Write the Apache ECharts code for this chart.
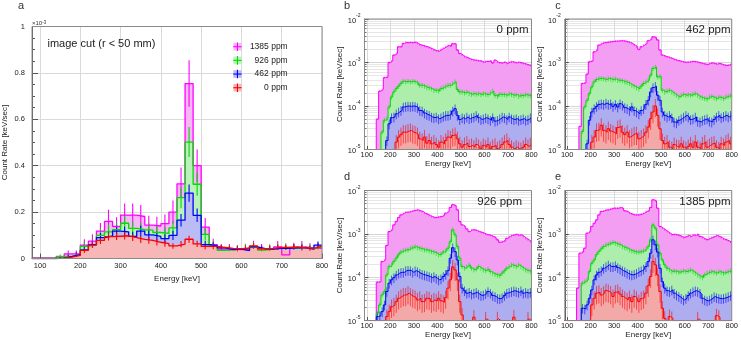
<!DOCTYPE html>
<html><head><meta charset="utf-8">
<script src="https://cdn.jsdelivr.net/npm/echarts@6/dist/echarts.min.js"></script>
<style>html,body{margin:0;padding:0;background:#fff}#c{width:741px;height:340px}</style>
</head><body><div id="c"></div>
<script>
// ---------------- DATA ----------------
const seriesNames = ['1385 ppm', '926 ppm', '462 ppm', '0 ppm'];
const panelTitles = ['0 ppm', '462 ppm', '926 ppm', '1385 ppm'];
const panelLetters = ['a', 'b', 'c', 'd', 'e'];
const energyTicks = [100, 200, 300, 400, 500, 600, 700, 800];

// Panel a: 20 keV bins, lower edges (keV); rates in units of 1e-3 keV/sec
const binWidthA = 20;
const binStartA = [80,100,120,140,160,180,200,220,240,260,280,300,320,340,360,380,400,420,440,460,480,500,520,540,560,580,600,620,640,660,680,700,720,740,760,780];
const rateA_1385 = [0,0,0,0.003,0.020,0.020,0.058,0.075,0.118,0.160,
  0.138,0.187,0.187,0.181,0.144,0.140,0.150,0.200,0.322,0.754,
  0.400,0.135,0.060,0.040,0.042,0.038,0.040,0.052,0.042,0.040,
  0.050,0.016,0.048,0.050,0.046,0.044];
const rateA_926 = [0,0,0,0.009,0.010,0.017,0.052,0.060,0.100,0.115,
  0.124,0.152,0.130,0.124,0.122,0.112,0.108,0.132,0.262,0.502,
  0.320,0.104,0.055,0.035,0.037,0.040,0.046,0.050,0.036,0.042,
  0.046,0.048,0.044,0.048,0.042,0.050];
const rateA_462 = [0,0,0,0.002,0.009,0.017,0.037,0.060,0.090,0.098,
  0.118,0.115,0.095,0.118,0.102,0.095,0.086,0.100,0.165,0.282,
  0.186,0.060,0.055,0.046,0.038,0.040,0.034,0.050,0.042,0.040,
  0.044,0.044,0.046,0.046,0.040,0.058];
const rateA_0 = [0,0,0,0.002,0.006,0.013,0.035,0.058,0.078,0.094,
  0.096,0.098,0.090,0.082,0.078,0.070,0.064,0.054,0.062,0.083,
  0.063,0.052,0.052,0.048,0.044,0.042,0.045,0.054,0.042,0.044,
  0.048,0.048,0.050,0.046,0.044,0.052];
const errA_1385 = [0,0,0,0.005,0.015,0.015,0.025,0.03,0.035,0.05,
  0.04,0.05,0.05,0.05,0.04,0.04,0.04,0.05,0.07,0.10,
  0.07,0.04,0.025,0.02,0.02,0.02,0.02,0.025,0.02,0.02,
  0.025,0.015,0.02,0.025,0.02,0.02];
const errA_926 = [0,0,0,0.008,0.008,0.012,0.02,0.022,0.028,0.03,
  0.03,0.033,0.03,0.03,0.03,0.028,0.028,0.03,0.045,0.065,
  0.05,0.028,0.02,0.016,0.016,0.017,0.018,0.019,0.016,0.017,
  0.018,0.018,0.017,0.018,0.017,0.018];
const errA_462 = [0,0,0,0.003,0.007,0.01,0.014,0.017,0.02,0.021,
  0.023,0.022,0.02,0.023,0.021,0.02,0.019,0.02,0.027,0.037,
  0.029,0.015,0.014,0.013,0.012,0.012,0.012,0.014,0.013,0.012,
  0.013,0.013,0.013,0.013,0.012,0.015];
const errA_0 = [0,0,0,0.003,0.005,0.007,0.011,0.013,0.015,0.016,
  0.016,0.016,0.015,0.015,0.014,0.014,0.013,0.012,0.013,0.015,
  0.013,0.012,0.012,0.011,0.011,0.011,0.011,0.012,0.011,0.011,
  0.011,0.011,0.012,0.011,0.011,0.012];

// Panels b-e: 10 keV bins, lower edges (keV); rates in keV/sec
const binWidthS = 10;
const binStartS = [90,100,110,120,130,140,150,160,170,180,190,200,210,220,230,240,250,260,270,280,290,300,310,320,330,340,350,360,370,380,390,400,410,420,430,440,450,460,470,480,490,500,510,520,530,540,550,560,570,580,590,600,610,620,630,640,650,660,670,680,690,700,710,720,730,740,750,760,770,780,790];
// relative error bar size per curve (upper, second, third, lowest)
const relErrS = [0.05, 0.13, 0.25, 0.45];

// panel b (0 ppm)
const rateB_1 = [0,0,0,0,0,5e-5,2.2e-4,2.4e-4,4.5e-4,4.6e-4,
  1.0e-3,1.08e-3,1.48e-3,1.61e-3,2.3e-3,2.3e-3,2.74e-3,2.9e-3,2.85e-3,2.9e-3,
  2.85e-3,2.94e-3,2.74e-3,2.55e-3,2.47e-3,2.38e-3,2.3e-3,2.18e-3,2.07e-3,1.93e-3,
  1.86e-3,1.83e-3,2.0e-3,2.14e-3,2.3e-3,2.47e-3,2.38e-3,2.7e-3,2.7e-3,1.93e-3,
  1.61e-3,1.48e-3,1.35e-3,1.30e-3,1.22e-3,1.17e-3,1.13e-3,1.13e-3,1.09e-3,1.08e-3,
  1.02e-3,1.06e-3,1.06e-3,1.09e-3,9.8e-4,1.13e-3,1.02e-3,9.8e-4,9.8e-4,1.02e-3,
  9.5e-4,1.02e-3,1.04e-3,1.02e-3,9.8e-4,1.02e-3,9.8e-4,9.5e-4,9.2e-4,8.8e-4,
  8.5e-4];
const rateB_2 = [0,0,0,0,0,0,0,2.5e-5,4.7e-5,5.1e-5,
  9.5e-5,1.61e-4,2.1e-4,2.5e-4,2.85e-4,3.3e-4,3.7e-4,3.6e-4,3.7e-4,3.58e-4,
  3.7e-4,3.6e-4,3.4e-4,3.0e-4,3.0e-4,2.85e-4,2.65e-4,2.6e-4,2.5e-4,2.3e-4,
  2.3e-4,2.2e-4,2.5e-4,2.65e-4,2.85e-4,3.0e-4,3.0e-4,3.3e-4,3.6e-4,2.4e-4,
  2.1e-4,2.1e-4,2.0e-4,2.1e-4,1.93e-4,1.86e-4,1.93e-4,1.86e-4,1.93e-4,1.83e-4,
  1.93e-4,1.86e-4,1.83e-4,2.0e-4,2.2e-4,1.76e-4,1.67e-4,1.86e-4,1.83e-4,1.83e-4,
  1.76e-4,1.93e-4,1.83e-4,1.76e-4,1.83e-4,1.67e-4,1.76e-4,1.73e-4,1.83e-4,1.76e-4,
  1.73e-4];
const rateB_3 = [0,0,0,0,0,0,0,0,0,1.6e-5,
  3.9e-5,5.4e-5,5.6e-5,6.6e-5,7.3e-5,7.9e-5,9.5e-5,9.8e-5,1.0e-4,9.8e-5,
  1.0e-4,9.8e-5,9.2e-5,7.9e-5,7.7e-5,6.9e-5,6.4e-5,6.1e-5,5.6e-5,5.4e-5,
  5.6e-5,5.1e-5,5.4e-5,5.8e-5,6.1e-5,6.1e-5,6.4e-5,7.7e-5,8.7e-5,6.1e-5,
  4.9e-5,5.4e-5,5.1e-5,5.6e-5,5.1e-5,5.4e-5,5.6e-5,6.1e-5,5.4e-5,4.9e-5,
  5.1e-5,5.4e-5,5.1e-5,4.7e-5,5.4e-5,4.5e-5,4.7e-5,5.1e-5,5.6e-5,5.4e-5,
  4.9e-5,5.6e-5,5.1e-5,4.9e-5,5.1e-5,4.7e-5,4.9e-5,5.1e-5,4.7e-5,4.9e-5,
  5.4e-5];
const rateB_4 = [0,0,0,0,0,0,0,0,0,0,
  0,0,0,1.48e-5,1.93e-5,2.2e-5,2.5e-5,2.5e-5,2.65e-5,2.74e-5,
  2.5e-5,2.4e-5,2.2e-5,1.76e-5,1.61e-5,1.93e-5,1.4e-5,1.61e-5,1.35e-5,1.48e-5,
  1.3e-5,1.13e-5,1.48e-5,1.35e-5,1.61e-5,1.93e-5,1.85e-5,2.1e-5,2.2e-5,1.76e-5,
  1.35e-5,1.13e-5,1.3e-5,1.4e-5,1.17e-5,1.24e-5,1.13e-5,1.3e-5,1.17e-5,1.04e-5,
  1.24e-5,1.13e-5,1.3e-5,1.04e-5,1.17e-5,1.24e-5,1.04e-5,1.13e-5,1.3e-5,1.48e-5,
  1.61e-5,1.3e-5,1.13e-5,1.02e-5,1.13e-5,1.04e-5,1.0e-5,1.13e-5,1.3e-5,1.17e-5,
  1.3e-5];

// panel c (462 ppm)
const rateC_1 = [0,0,0,0,0,0,3.4e-5,3.3e-4,3.4e-4,5.4e-4,
  1.04e-3,1.08e-3,1.76e-3,1.93e-3,2.51e-3,2.74e-3,2.85e-3,2.9e-3,2.94e-3,3.0e-3,
  3.05e-3,3.1e-3,3.1e-3,3.16e-3,3.16e-3,3.1e-3,3.0e-3,2.9e-3,2.74e-3,2.51e-3,
  2.3e-3,2.0e-3,2.3e-3,2.51e-3,2.74e-3,3.16e-3,3.4e-3,3.9e-3,3.75e-3,3.3e-3,
  1.93e-3,1.48e-3,1.4e-3,1.35e-3,1.3e-3,1.24e-3,1.17e-3,1.13e-3,1.09e-3,1.06e-3,
  1.02e-3,1.02e-3,1.02e-3,1.04e-3,1.06e-3,1.04e-3,1.02e-3,9.8e-4,9.5e-4,9.2e-4,
  9.0e-4,9.5e-4,9.8e-4,9.5e-4,9.2e-4,9.5e-4,9.2e-4,8.8e-4,8.5e-4,8.7e-4,
  9.0e-4];
const rateC_2 = [0,0,0,0,0,0,0,2.6e-5,9.5e-5,1.35e-4,
  1.93e-4,2.74e-4,3.58e-4,4.06e-4,4.27e-4,4.3e-4,4.2e-4,4.06e-4,4.27e-4,4.2e-4,
  4.06e-4,4.2e-4,3.9e-4,3.9e-4,3.8e-4,3.6e-4,3.5e-4,3.3e-4,3.0e-4,2.85e-4,
  2.65e-4,2.5e-4,2.85e-4,3.3e-4,3.6e-4,3.9e-4,5.1e-4,7.3e-4,7.9e-4,4.66e-4,
  4.8e-4,2.3e-4,2.1e-4,2.2e-4,2.3e-4,2.1e-4,1.93e-4,1.76e-4,1.61e-4,1.76e-4,
  1.86e-4,1.76e-4,1.83e-4,1.76e-4,1.86e-4,1.93e-4,1.76e-4,1.61e-4,1.55e-4,1.48e-4,
  1.45e-4,1.61e-4,1.67e-4,1.55e-4,1.48e-4,1.61e-4,1.55e-4,1.48e-4,1.61e-4,1.67e-4,
  1.73e-4];
const rateC_3 = [0,0,0,0,0,0,0,0,0,1.35e-5,
  4.7e-5,7.3e-5,8.7e-5,9.8e-5,1.09e-4,1.13e-4,1.09e-4,1.17e-4,1.09e-4,1.13e-4,
  9.8e-5,1.09e-4,9.5e-5,1.13e-4,1.04e-4,9.2e-5,8.7e-5,7.9e-5,9.5e-5,7.9e-5,
  7.3e-5,6.6e-5,7.9e-5,8.7e-5,1.09e-4,1.35e-4,2.1e-4,2.65e-4,2.85e-4,1.76e-4,
  1.35e-4,7.3e-5,6.1e-5,5.6e-5,6.1e-5,5.4e-5,4.3e-5,4.1e-5,4.7e-5,5.1e-5,
  5.6e-5,6.1e-5,5.6e-5,4.9e-5,5.1e-5,5.6e-5,4.5e-5,4.3e-5,4.7e-5,4.9e-5,
  5.1e-5,4.5e-5,4.3e-5,4.9e-5,5.6e-5,6.1e-5,5.4e-5,5.8e-5,6.1e-5,5.6e-5,
  6.1e-5];
const rateC_4 = [0,0,0,0,0,0,0,0,0,0,
  0,1.48e-5,1.93e-5,2.74e-5,2.85e-5,3.6e-5,2.74e-5,2.5e-5,3.0e-5,2.65e-5,
  2.5e-5,2.3e-5,3.2e-5,3.4e-5,2.5e-5,2.2e-5,2.5e-5,1.93e-5,2.1e-5,2.3e-5,
  2.3e-5,1.76e-5,1.93e-5,2.1e-5,2.5e-5,3.27e-5,5.1e-5,7.3e-5,1.0e-4,6.1e-5,
  3.0e-5,1.61e-5,1.35e-5,1.48e-5,1.13e-5,1.04e-5,1.3e-5,1.17e-5,1.13e-5,1.35e-5,
  1.13e-5,1.04e-5,1.17e-5,1.35e-5,1.13e-5,1.48e-5,1.13e-5,1.04e-5,1.35e-5,1.48e-5,
  1.13e-5,1.24e-5,1.35e-5,1.4e-5,1.13e-5,1.04e-5,1.35e-5,1.24e-5,1.48e-5,1.61e-5,
  1.35e-5];

// panel d (926 ppm)
const rateD_1 = [0,0,0,0,0,7.7e-5,7.9e-5,2.3e-4,2.5e-4,5.4e-4,
  1.13e-3,1.24e-3,1.61e-3,1.93e-3,2.38e-3,2.74e-3,3.0e-3,3.16e-3,3.16e-3,3.27e-3,
  3.4e-3,3.5e-3,3.58e-3,3.4e-3,3.27e-3,3.0e-3,2.85e-3,2.65e-3,2.51e-3,2.38e-3,
  2.38e-3,2.47e-3,2.51e-3,2.65e-3,3.0e-3,3.27e-3,4.05e-3,4.7e-3,4.5e-3,3.58e-3,
  1.93e-3,1.61e-3,1.48e-3,1.3e-3,1.13e-3,1.24e-3,1.24e-3,1.2e-3,1.13e-3,1.09e-3,
  1.04e-3,9.8e-4,9.5e-4,9.2e-4,8.7e-4,8.2e-4,7.3e-4,6.4e-4,6.6e-4,6.9e-4,
  7.9e-4,8.7e-4,9.2e-4,9.5e-4,9.8e-4,9.2e-4,9.5e-4,8.7e-4,7.9e-4,7.3e-4,
  6.6e-4];
const rateD_2 = [0,0,0,0,0,1.48e-5,2.3e-5,3.9e-5,4.7e-5,1.13e-4,
  1.76e-4,1.93e-4,2.3e-4,2.74e-4,3.3e-4,3.8e-4,4.06e-4,4.27e-4,4.27e-4,4.66e-4,
  4.8e-4,5.1e-4,4.8e-4,4.66e-4,4.5e-4,4.27e-4,4.27e-4,4.06e-4,3.9e-4,3.8e-4,
  3.58e-4,3.3e-4,3.4e-4,3.8e-4,4.06e-4,4.66e-4,6.6e-4,1.24e-3,9.5e-4,5.1e-4,
  2.74e-4,1.76e-4,1.61e-4,1.76e-4,1.93e-4,1.61e-4,1.48e-4,1.55e-4,1.76e-4,1.61e-4,
  1.48e-4,1.42e-4,1.55e-4,1.35e-4,1.24e-4,1.17e-4,1.13e-4,1.09e-4,1.24e-4,1.4e-4,
  1.61e-4,1.76e-4,1.93e-4,1.86e-4,1.76e-4,1.93e-4,1.76e-4,1.61e-4,1.48e-4,1.42e-4,
  1.35e-4];
const rateD_3 = [0,0,0,0,0,1.24e-5,1.3e-5,1.61e-5,2.3e-5,4.7e-5,
  7.3e-5,8.7e-5,9.8e-5,1.13e-4,1.24e-4,1.3e-4,1.3e-4,1.42e-4,1.45e-4,1.42e-4,
  1.3e-4,1.42e-4,1.35e-4,1.24e-4,1.17e-4,1.13e-4,1.09e-4,1.04e-4,9.8e-5,1.04e-4,
  9.5e-5,8.7e-5,9.2e-5,1.04e-4,1.17e-4,1.42e-4,2.74e-4,4.8e-4,3.9e-4,2.5e-4,
  1.04e-4,5.6e-5,4.9e-5,4.3e-5,4.5e-5,4.1e-5,4.3e-5,4.5e-5,4.1e-5,3.8e-5,
  3.9e-5,4.2e-5,4.7e-5,4.3e-5,3.8e-5,3.6e-5,3.27e-5,3.2e-5,3.4e-5,3.8e-5,
  4.3e-5,4.5e-5,4.7e-5,4.9e-5,4.7e-5,4.5e-5,4.9e-5,4.3e-5,4.5e-5,4.3e-5,
  4.5e-5];
const rateD_4 = [0,0,0,0,0,0,0,0,0,1.24e-5,
  1.61e-5,2.1e-5,2.3e-5,2.74e-5,3.27e-5,3.6e-5,3.9e-5,3.9e-5,4.3e-5,3.9e-5,
  3.6e-5,3.4e-5,3.0e-5,3.27e-5,2.74e-5,2.85e-5,3.27e-5,3.2e-5,2.74e-5,3.0e-5,
  2.85e-5,3.27e-5,2.85e-5,2.65e-5,3.4e-5,5.6e-5,8.7e-5,1.73e-4,1.48e-4,8.7e-5,
  2.74e-5,1.35e-5,0,0,0,0,1.2e-5,0,0,0,
  0,1.1e-5,0,0,0,0,1.1e-5,0,0,0,
  0,0,0,1.2e-5,0,0,0,0,0,1.1e-5,
  0];

// panel e (1385 ppm)
const rateE_1 = [0,0,0,0,0,5.6e-5,3.58e-4,3.8e-4,4.66e-4,1.04e-3,
  1.13e-3,1.48e-3,1.76e-3,2.1e-3,2.74e-3,3.27e-3,3.4e-3,3.58e-3,3.58e-3,3.75e-3,
  3.9e-3,3.9e-3,3.9e-3,4.05e-3,3.9e-3,3.4e-3,3.27e-3,3.0e-3,2.85e-3,2.74e-3,
  2.74e-3,2.74e-3,2.85e-3,3.0e-3,3.27e-3,3.4e-3,4.05e-3,6.1e-3,5.8e-3,3.9e-3,
  1.48e-3,1.35e-3,1.24e-3,1.13e-3,1.04e-3,9.5e-4,9.8e-4,9.5e-4,9.2e-4,8.7e-4,
  8.2e-4,8.7e-4,9.2e-4,8.7e-4,9.5e-4,9.2e-4,9.8e-4,8.7e-4,8.2e-4,7.6e-4,
  7.3e-4,7.9e-4,8.2e-4,8.7e-4,9.2e-4,8.7e-4,8.2e-4,7.6e-4,7.3e-4,6.9e-4,
  6.4e-4];
const rateE_2 = [0,0,0,0,0,0,0,7.3e-5,7.9e-5,8.7e-5,
  1.35e-4,2.1e-4,2.5e-4,3.3e-4,3.9e-4,4.5e-4,5.1e-4,5.6e-4,5.8e-4,6.1e-4,
  6.4e-4,6.1e-4,5.8e-4,5.6e-4,5.1e-4,4.8e-4,4.66e-4,4.27e-4,4.06e-4,3.9e-4,
  3.8e-4,3.8e-4,3.9e-4,4.06e-4,4.4e-4,5.1e-4,7.3e-4,1.61e-3,1.35e-3,5.6e-4,
  3.58e-4,2.5e-4,1.93e-4,1.61e-4,1.48e-4,1.35e-4,1.4e-4,1.35e-4,1.3e-4,1.35e-4,
  1.4e-4,1.35e-4,1.4e-4,1.48e-4,1.35e-4,1.24e-4,1.13e-4,1.04e-4,9.8e-5,1.13e-4,
  1.24e-4,1.3e-4,1.35e-4,1.3e-4,1.24e-4,1.35e-4,1.3e-4,1.24e-4,1.3e-4,1.35e-4,
  1.4e-4];
const rateE_3 = [0,0,0,0,0,0,0,1.93e-5,1.86e-5,2.3e-5,
  3.27e-5,5.1e-5,8.7e-5,1.13e-4,1.3e-4,1.42e-4,1.61e-4,1.76e-4,1.93e-4,1.76e-4,
  1.76e-4,1.86e-4,1.67e-4,1.55e-4,1.42e-4,1.35e-4,1.24e-4,1.17e-4,1.13e-4,1.17e-4,
  1.24e-4,1.35e-4,1.42e-4,1.55e-4,1.76e-4,2.3e-4,3.58e-4,7.3e-4,5.6e-4,3.8e-4,
  1.61e-4,7.9e-5,5.6e-5,4.9e-5,4.7e-5,5.1e-5,4.3e-5,3.9e-5,3.6e-5,3.27e-5,
  3.0e-5,3.27e-5,3.8e-5,4.3e-5,4.7e-5,4.9e-5,4.7e-5,4.3e-5,3.27e-5,3.0e-5,
  2.85e-5,3.0e-5,3.27e-5,3.6e-5,3.4e-5,3.27e-5,3.2e-5,3.27e-5,3.4e-5,3.6e-5,
  3.8e-5];
const rateE_4 = [0,0,0,0,0,0,0,0,0,0,
  0,2.3e-5,3.27e-5,4.3e-5,4.5e-5,3.9e-5,4.3e-5,4.9e-5,4.7e-5,4.3e-5,
  3.6e-5,4.5e-5,4.7e-5,4.1e-5,3.6e-5,3.27e-5,3.0e-5,3.4e-5,2.74e-5,3.6e-5,
  3.27e-5,2.74e-5,3.2e-5,3.4e-5,4.3e-5,6.4e-5,1.04e-4,2.3e-4,1.93e-4,1.13e-4,
  4.7e-5,1.93e-5,1.13e-5,0,1.24e-5,1.13e-5,0,0,0,0,
  0,0,0,0,0,0,1.1e-5,0,0,0,
  0,0,0,0,1.3e-5,1.2e-5,0,0,0,0,
  0];

// ---------------- STYLE ----------------
const FONT = "'Liberation Sans', Arial, Helvetica, sans-serif";
const lineColors = ['#ff00ff', '#00dd00', '#0000ff', '#ff0000'];
const fillA = ['#f6b7f6', '#baf3ba', '#bbbbf5', '#f7b7b7'];
const fillS = ['#f39ef3', '#adeead', '#adadf0', '#f4a9a9'];
const TXT = '#222';

const gridPos = [
  {left: 32, top: 26.5, width: 290, height: 232},
  {left: 364.5, top: 19, width: 167, height: 130.5},
  {left: 564.8, top: 19, width: 167.5, height: 130.5},
  {left: 364.5, top: 190.5, width: 167, height: 130.5},
  {left: 564.8, top: 190.5, width: 167.5, height: 130.5}
];
const grids = gridPos.map(g => Object.assign({show: true, borderColor: '#8a8a8a', borderWidth: 1, backgroundColor: 'transparent', z: 3}, g));

function xAxisCfg(i, min, big) {
  return {
    gridIndex: i, type: 'value', min: min, max: 800, z: 1,
    axisLine: {show: true, onZero: false, lineStyle: {color: '#555', width: 1}},
    axisTick: {show: true, inside: true, length: big ? 5 : 3.5, customValues: energyTicks, lineStyle: {color: '#555'}},
    axisLabel: {customValues: energyTicks, fontSize: 7.5, color: TXT, fontFamily: FONT, margin: big ? 3 : 1.5},
    splitLine: {show: true, lineStyle: {color: '#dadada', width: 1}},
    name: 'Energy [keV]', nameLocation: 'middle', nameGap: big ? 12 : 9.5,
    nameTextStyle: {fontSize: 8, color: TXT, fontFamily: FONT}
  };
}
const yA = {
  gridIndex: 0, type: 'value', min: 0, max: 1, interval: 0.2, z: 1,
  axisLine: {show: true, lineStyle: {color: '#555'}},
  axisTick: {show: true, inside: true, length: 6, lineStyle: {color: '#555'}},
  minorTick: {show: true, splitNumber: 4, length: 3, lineStyle: {color: '#555'}},
  axisLabel: {fontSize: 7.5, color: TXT, fontFamily: FONT, margin: 7},
  splitLine: {show: true, lineStyle: {color: '#dadada'}},
  name: 'Count Rate [keV/sec]', nameLocation: 'middle', nameGap: 23, nameRotate: 90,
  nameTextStyle: {fontSize: 8, color: TXT, fontFamily: FONT}
};
function yLogCfg(i) {
  return {
    gridIndex: i, type: 'log', logBase: 10, min: 1e-5, max: 1e-2, z: 1,
    axisLine: {show: true, lineStyle: {color: '#555'}},
    axisTick: {show: true, inside: true, length: 4, lineStyle: {color: '#555'}},
    minorTick: {show: true, splitNumber: 9, length: 2, lineStyle: {color: '#777'}},
    splitLine: {show: true, lineStyle: {color: '#d4d4d4'}},
    minorSplitLine: {show: true, lineStyle: {color: '#e6e6e6'}},
    axisLabel: {
      margin: 4,
      formatter: v => '{b|10}{s|' + Math.round(Math.log10(v)) + '}',
      rich: {
        b: {fontSize: 7.5, color: TXT, fontFamily: FONT, verticalAlign: 'bottom', lineHeight: 11},
        s: {fontSize: 5, color: TXT, fontFamily: FONT, verticalAlign: 'top', lineHeight: 11}
      }
    },
    name: 'Count Rate [keV/sec]', nameLocation: 'middle', nameGap: 20, nameRotate: 90,
    nameTextStyle: {fontSize: 8, color: TXT, fontFamily: FONT}
  };
}

function histSeries(gi, edges, width, vals, ci, fills, lw, floor) {
  const pts = edges.map((e, k) => [e, Math.max(vals[k], floor)]);
  pts.push([edges[edges.length - 1] + width, Math.max(vals[vals.length - 1], floor)]);
  return {
    type: 'line', xAxisIndex: gi, yAxisIndex: gi, data: pts, step: 'end',
    symbol: 'none', showSymbol: false, silent: true, clip: true, z: 2,
    lineStyle: {color: lineColors[ci], width: lw},
    itemStyle: {color: lineColors[ci]},
    areaStyle: {color: fills[ci], opacity: 1, origin: 'start'}
  };
}
function errSeries(gi, edges, width, vals, errs, ci, lw, floor) {
  const d = [];
  edges.forEach((e, k) => {
    if (vals[k] > 0) d.push([e + width / 2, Math.max(vals[k] - errs[k], floor), vals[k] + errs[k]]);
  });
  return {
    type: 'custom', xAxisIndex: gi, yAxisIndex: gi, data: d, z: 2, silent: true, clip: true,
    encode: {x: 0, y: [1, 2]},
    renderItem: (p, api) => {
      const a = api.coord([api.value(0), api.value(1)]);
      const b = api.coord([api.value(0), api.value(2)]);
      return {type: 'line', shape: {x1: a[0], y1: a[1], x2: b[0], y2: b[1]},
        style: {stroke: lineColors[ci], lineWidth: lw}};
    }
  };
}

const series = [];
const ratesA = [rateA_1385, rateA_926, rateA_462, rateA_0];
const errsA = [errA_1385, errA_926, errA_462, errA_0];
ratesA.forEach((r, ci) => {
  series.push(histSeries(0, binStartA, binWidthA, r, ci, fillA, 1.3, 0));
  series.push(errSeries(0, binStartA, binWidthA, r, errsA[ci], ci, 1.1, 0));
});
const smallPanels = [
  [rateB_1, rateB_2, rateB_3, rateB_4],
  [rateC_1, rateC_2, rateC_3, rateC_4],
  [rateD_1, rateD_2, rateD_3, rateD_4],
  [rateE_1, rateE_2, rateE_3, rateE_4]
];
smallPanels.forEach((set, pi) => {
  set.forEach((r, ci) => {
    series.push(histSeries(pi + 1, binStartS, binWidthS, r, ci, fillS, 1, 1e-5));
    series.push(errSeries(pi + 1, binStartS, binWidthS, r, r.map(v => v * relErrS[ci]), ci, 0.6, 1e-6));
  });
});

// ---------------- TEXT / LEGEND ----------------
const graphic = [];
const letterPos = [[21, 6], [347, 6], [558, 6], [347, 177], [558, 177]];
panelLetters.forEach((t, i) => graphic.push({type: 'text', x: letterPos[i][0], y: letterPos[i][1], z: 20,
  style: {text: t, fontSize: 11, fontFamily: FONT, fill: '#333', align: 'center', verticalAlign: 'middle'}}));
const titlePos = [[528.5, 30], [730.5, 30], [522, 201.5], [730.5, 201.5]];
panelTitles.forEach((t, i) => graphic.push({type: 'text', x: titlePos[i][0], y: titlePos[i][1], z: 20,
  style: {text: t, fontSize: 11.5, fontFamily: FONT, fill: TXT, align: 'right', verticalAlign: 'middle'}}));
graphic.push({type: 'text', x: 47.5, y: 44.3, z: 20,
  style: {text: 'image cut (r < 50 mm)', fontSize: 11, fontFamily: FONT, fill: TXT, align: 'left', verticalAlign: 'middle'}});
graphic.push({type: 'text', x: 32, y: 23, z: 20,
  style: {text: '×10{s|-3}', fontSize: 6, fontFamily: FONT, fill: '#333', align: 'left', verticalAlign: 'middle',
    rich: {s: {fontSize: 4.5, fontFamily: FONT, fill: '#333', verticalAlign: 'top'}}}});
seriesNames.forEach((n, i) => {
  const cy = 46.7 + i * 13.67;
  graphic.push({type: 'rect', z: 20, shape: {x: 233.3, y: cy - 3.8, width: 8.3, height: 7.6}, style: {fill: fillA[i]}});
  graphic.push({type: 'line', z: 21, shape: {x1: 233.3, y1: cy, x2: 241.6, y2: cy}, style: {stroke: lineColors[i], lineWidth: 1.1}});
  graphic.push({type: 'line', z: 21, shape: {x1: 237.45, y1: cy - 4.3, x2: 237.45, y2: cy + 4.3}, style: {stroke: lineColors[i], lineWidth: 1.1}});
  graphic.push({type: 'text', x: 287.7, y: cy, z: 20,
    style: {text: n, fontSize: 8.5, fontFamily: FONT, fill: TXT, align: 'right', verticalAlign: 'middle'}});
});

const chart = echarts.init(document.getElementById('c'), null, {renderer: 'canvas'});
chart.setOption({
  animation: false,
  backgroundColor: '#fff',
  grid: grids,
  xAxis: [xAxisCfg(0, 80, true), xAxisCfg(1, 90, false), xAxisCfg(2, 90, false), xAxisCfg(3, 90, false), xAxisCfg(4, 90, false)],
  yAxis: [yA, yLogCfg(1), yLogCfg(2), yLogCfg(3), yLogCfg(4)],
  series: series,
  graphic: graphic
});
</script>
</body></html>
